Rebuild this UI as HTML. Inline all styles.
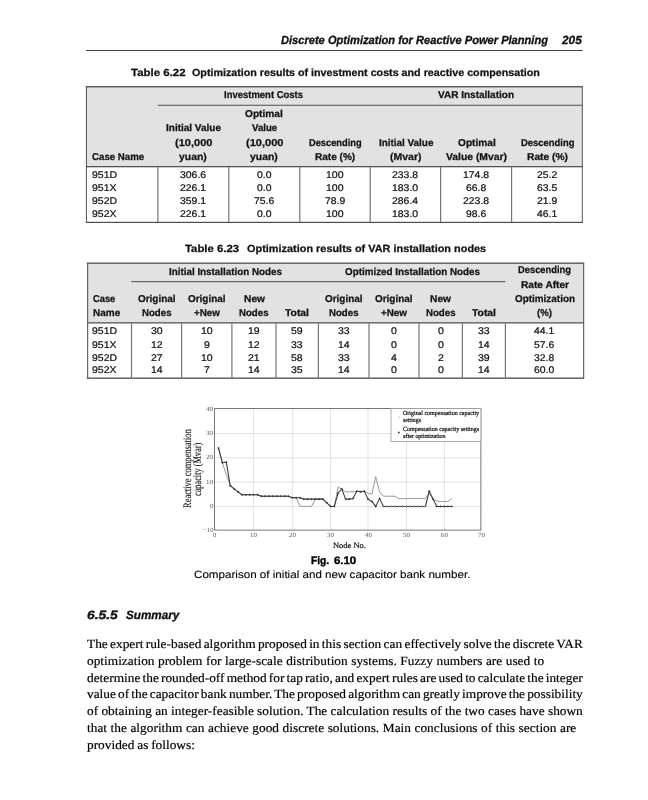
<!DOCTYPE html>
<html><head><meta charset="utf-8"><title>p205</title><style>
html,body{margin:0;padding:0;background:#fff}
#pg{position:relative;will-change:transform;width:648px;height:800px;overflow:hidden;background:#fff;font-family:"Liberation Sans",sans-serif}
.t{position:absolute;text-rendering:geometricPrecision;white-space:nowrap;transform-origin:0 0;line-height:1}
.r{position:absolute;white-space:nowrap;line-height:1;font-family:"Liberation Serif",serif;color:#222}
.b{position:absolute}

</style></head><body><div id="pg">
<svg width="648" height="800" viewBox="0 0 648 800" style="position:absolute;left:0;top:0">
<rect x="86.00" y="50.00" width="496.60" height="1.00" fill="#444"/>
<rect x="86.00" y="86.50" width="496.50" height="80.00" fill="#e2e2e2"/>
<rect x="85.90" y="86.10" width="496.90" height="1.30" fill="#4c4c4c"/>
<rect x="157.90" y="104.70" width="424.60" height="1.20" fill="#666"/>
<rect x="86.00" y="166.00" width="496.50" height="1.30" fill="#555"/>
<rect x="85.90" y="221.80" width="496.90" height="1.20" fill="#4c4c4c"/>
<rect x="85.90" y="86.00" width="1.00" height="136.50" fill="#505050"/>
<rect x="581.80" y="86.00" width="1.00" height="136.50" fill="#5a5a5a"/>
<rect x="157.30" y="167.00" width="1.20" height="55.00" fill="#757575"/>
<rect x="228.20" y="167.00" width="1.20" height="55.00" fill="#757575"/>
<rect x="299.20" y="167.00" width="1.20" height="55.00" fill="#757575"/>
<rect x="369.60" y="167.00" width="1.20" height="55.00" fill="#757575"/>
<rect x="440.00" y="167.00" width="1.20" height="55.00" fill="#757575"/>
<rect x="511.00" y="167.00" width="1.20" height="55.00" fill="#757575"/>
<rect x="87.00" y="263.00" width="497.00" height="59.50" fill="#e2e2e2"/>
<rect x="86.80" y="262.50" width="497.40" height="1.30" fill="#4c4c4c"/>
<rect x="131.40" y="281.00" width="374.00" height="1.20" fill="#666"/>
<rect x="87.00" y="322.20" width="497.00" height="1.30" fill="#555"/>
<rect x="86.80" y="377.50" width="497.40" height="1.30" fill="#4c4c4c"/>
<rect x="87.10" y="263.00" width="1.10" height="115.50" fill="#5a5a5a"/>
<rect x="583.10" y="263.00" width="1.10" height="115.50" fill="#5a5a5a"/>
<rect x="130.90" y="323.20" width="1.20" height="54.50" fill="#757575"/>
<rect x="181.00" y="323.20" width="1.20" height="54.50" fill="#757575"/>
<rect x="231.30" y="323.20" width="1.20" height="54.50" fill="#757575"/>
<rect x="275.40" y="323.20" width="1.20" height="54.50" fill="#757575"/>
<rect x="317.80" y="323.20" width="1.20" height="54.50" fill="#757575"/>
<rect x="368.40" y="323.20" width="1.20" height="54.50" fill="#757575"/>
<rect x="418.40" y="323.20" width="1.20" height="54.50" fill="#757575"/>
<rect x="461.80" y="323.20" width="1.20" height="54.50" fill="#757575"/>
<rect x="504.80" y="323.20" width="1.20" height="54.50" fill="#757575"/>
</svg>
<svg width="648" height="800" viewBox="0 0 648 800" style="position:absolute;left:0;top:0">
<line x1="253.6" y1="408.6" x2="253.6" y2="530.1" stroke="#d6d6d6" stroke-width="0.7"/>
<line x1="292.3" y1="408.6" x2="292.3" y2="530.1" stroke="#d6d6d6" stroke-width="0.7"/>
<line x1="330.6" y1="408.6" x2="330.6" y2="530.1" stroke="#d6d6d6" stroke-width="0.7"/>
<line x1="368.0" y1="408.6" x2="368.0" y2="530.1" stroke="#d6d6d6" stroke-width="0.7"/>
<line x1="406.5" y1="408.6" x2="406.5" y2="530.1" stroke="#d6d6d6" stroke-width="0.7"/>
<line x1="444.4" y1="408.6" x2="444.4" y2="530.1" stroke="#d6d6d6" stroke-width="0.7"/>
<line x1="214.6" y1="506.4" x2="480.9" y2="506.4" stroke="#d6d6d6" stroke-width="0.7"/>
<line x1="214.6" y1="482.1" x2="480.9" y2="482.1" stroke="#d6d6d6" stroke-width="0.7"/>
<line x1="214.6" y1="457.8" x2="480.9" y2="457.8" stroke="#d6d6d6" stroke-width="0.7"/>
<line x1="214.6" y1="433.5" x2="480.9" y2="433.5" stroke="#d6d6d6" stroke-width="0.7"/>
<rect x="214.6" y="408.6" width="266.3" height="121.5" fill="none" stroke="#555" stroke-width="0.8"/>
<polyline points="218.5,448.1 222.4,462.7 226.3,474.8 230.2,484.5 234.1,488.9 238.0,491.8 241.9,494.7 245.8,494.7 249.7,494.7 253.6,494.7 257.5,494.7 261.3,496.2 265.2,496.2 269.1,496.2 272.9,496.2 276.8,496.2 280.7,496.2 284.6,496.2 288.4,496.2 292.3,497.7 296.1,497.7 300.0,506.4 303.8,506.4 307.6,506.4 311.5,506.4 315.3,499.1 319.1,499.1 322.9,499.1 326.8,502.8 330.6,506.4 334.3,506.4 338.1,487.0 341.8,489.4 345.6,491.8 349.3,491.8 353.0,491.8 356.8,491.3 360.5,491.8 364.3,491.3 368.0,493.0 371.9,494.2 375.7,476.8 379.6,491.8 383.4,496.2 387.2,496.2 391.1,496.2 394.9,496.2 398.8,498.6 402.6,498.6 406.5,498.6 410.3,498.6 414.1,498.6 417.9,498.6 421.7,498.6 425.4,498.6 429.2,493.0 433.0,499.1 436.8,501.1 440.6,501.5 444.4,501.5 448.0,501.5 451.7,498.6" fill="none" stroke="#929292" stroke-width="0.95"/>
<polyline points="218.5,448.1 222.4,462.7 226.3,462.2 230.2,485.7 234.1,488.9 238.0,491.8 241.9,494.7 245.8,494.7 249.7,494.7 253.6,494.7 257.5,494.7 261.3,496.2 265.2,496.2 269.1,496.2 272.9,496.2 276.8,496.2 280.7,496.2 284.6,496.2 288.4,496.2 292.3,497.7 296.1,497.7 300.0,497.7 303.8,499.1 307.6,499.1 311.5,499.1 315.3,499.1 319.1,499.1 322.9,499.1 326.8,502.8 330.6,506.4 334.3,506.4 338.1,493.0 341.8,488.9 345.6,499.1 349.3,499.1 353.0,498.6 356.8,491.3 360.5,491.8 364.3,491.3 368.0,499.1 371.9,501.5 375.7,506.4 379.6,498.6 383.4,506.4 387.2,506.4 391.1,506.4 394.9,506.4 398.8,506.4 402.6,506.4 406.5,506.4 410.3,506.4 414.1,506.4 417.9,506.4 421.7,506.4 425.4,506.4 429.2,491.3 433.0,499.1 436.8,506.4 440.6,506.4 444.4,506.4 448.0,506.4 451.7,506.4" fill="none" stroke="#3a3a3a" stroke-width="1.05"/>
<circle cx="218.5" cy="448.1" r="0.75" fill="#444" stroke="#3a3a3a" stroke-width="0.45"/>
<circle cx="222.4" cy="462.7" r="0.75" fill="#444" stroke="#3a3a3a" stroke-width="0.45"/>
<circle cx="226.3" cy="462.2" r="0.75" fill="#444" stroke="#3a3a3a" stroke-width="0.45"/>
<circle cx="230.2" cy="485.7" r="0.75" fill="#444" stroke="#3a3a3a" stroke-width="0.45"/>
<circle cx="234.1" cy="488.9" r="0.75" fill="#444" stroke="#3a3a3a" stroke-width="0.45"/>
<circle cx="238.0" cy="491.8" r="0.75" fill="#444" stroke="#3a3a3a" stroke-width="0.45"/>
<circle cx="241.9" cy="494.7" r="0.75" fill="#444" stroke="#3a3a3a" stroke-width="0.45"/>
<circle cx="245.8" cy="494.7" r="0.75" fill="#444" stroke="#3a3a3a" stroke-width="0.45"/>
<circle cx="249.7" cy="494.7" r="0.75" fill="#444" stroke="#3a3a3a" stroke-width="0.45"/>
<circle cx="253.6" cy="494.7" r="0.75" fill="#444" stroke="#3a3a3a" stroke-width="0.45"/>
<circle cx="257.5" cy="494.7" r="0.75" fill="#444" stroke="#3a3a3a" stroke-width="0.45"/>
<circle cx="261.3" cy="496.2" r="0.75" fill="#444" stroke="#3a3a3a" stroke-width="0.45"/>
<circle cx="265.2" cy="496.2" r="0.75" fill="#444" stroke="#3a3a3a" stroke-width="0.45"/>
<circle cx="269.1" cy="496.2" r="0.75" fill="#444" stroke="#3a3a3a" stroke-width="0.45"/>
<circle cx="272.9" cy="496.2" r="0.75" fill="#444" stroke="#3a3a3a" stroke-width="0.45"/>
<circle cx="276.8" cy="496.2" r="0.75" fill="#444" stroke="#3a3a3a" stroke-width="0.45"/>
<circle cx="280.7" cy="496.2" r="0.75" fill="#444" stroke="#3a3a3a" stroke-width="0.45"/>
<circle cx="284.6" cy="496.2" r="0.75" fill="#444" stroke="#3a3a3a" stroke-width="0.45"/>
<circle cx="288.4" cy="496.2" r="0.75" fill="#444" stroke="#3a3a3a" stroke-width="0.45"/>
<circle cx="292.3" cy="497.7" r="0.75" fill="#444" stroke="#3a3a3a" stroke-width="0.45"/>
<circle cx="296.1" cy="497.7" r="0.75" fill="#444" stroke="#3a3a3a" stroke-width="0.45"/>
<circle cx="300.0" cy="497.7" r="0.75" fill="#444" stroke="#3a3a3a" stroke-width="0.45"/>
<circle cx="303.8" cy="499.1" r="0.75" fill="#444" stroke="#3a3a3a" stroke-width="0.45"/>
<circle cx="307.6" cy="499.1" r="0.75" fill="#444" stroke="#3a3a3a" stroke-width="0.45"/>
<circle cx="311.5" cy="499.1" r="0.75" fill="#444" stroke="#3a3a3a" stroke-width="0.45"/>
<circle cx="315.3" cy="499.1" r="0.75" fill="#444" stroke="#3a3a3a" stroke-width="0.45"/>
<circle cx="319.1" cy="499.1" r="0.75" fill="#444" stroke="#3a3a3a" stroke-width="0.45"/>
<circle cx="322.9" cy="499.1" r="0.75" fill="#444" stroke="#3a3a3a" stroke-width="0.45"/>
<circle cx="326.8" cy="502.8" r="0.75" fill="#444" stroke="#3a3a3a" stroke-width="0.45"/>
<circle cx="330.6" cy="506.4" r="0.75" fill="#444" stroke="#3a3a3a" stroke-width="0.45"/>
<circle cx="334.3" cy="506.4" r="0.75" fill="#444" stroke="#3a3a3a" stroke-width="0.45"/>
<circle cx="338.1" cy="493.0" r="0.75" fill="#444" stroke="#3a3a3a" stroke-width="0.45"/>
<circle cx="341.8" cy="488.9" r="0.75" fill="#444" stroke="#3a3a3a" stroke-width="0.45"/>
<circle cx="345.6" cy="499.1" r="0.75" fill="#444" stroke="#3a3a3a" stroke-width="0.45"/>
<circle cx="349.3" cy="499.1" r="0.75" fill="#444" stroke="#3a3a3a" stroke-width="0.45"/>
<circle cx="353.0" cy="498.6" r="0.75" fill="#444" stroke="#3a3a3a" stroke-width="0.45"/>
<circle cx="356.8" cy="491.3" r="0.75" fill="#444" stroke="#3a3a3a" stroke-width="0.45"/>
<circle cx="360.5" cy="491.8" r="0.75" fill="#444" stroke="#3a3a3a" stroke-width="0.45"/>
<circle cx="364.3" cy="491.3" r="0.75" fill="#444" stroke="#3a3a3a" stroke-width="0.45"/>
<circle cx="368.0" cy="499.1" r="0.75" fill="#444" stroke="#3a3a3a" stroke-width="0.45"/>
<circle cx="371.9" cy="501.5" r="0.75" fill="#444" stroke="#3a3a3a" stroke-width="0.45"/>
<circle cx="375.7" cy="506.4" r="0.75" fill="#444" stroke="#3a3a3a" stroke-width="0.45"/>
<circle cx="379.6" cy="498.6" r="0.75" fill="#444" stroke="#3a3a3a" stroke-width="0.45"/>
<circle cx="383.4" cy="506.4" r="0.75" fill="#ccc" stroke="#3a3a3a" stroke-width="0.45"/>
<circle cx="387.2" cy="506.4" r="0.75" fill="#ccc" stroke="#3a3a3a" stroke-width="0.45"/>
<circle cx="391.1" cy="506.4" r="0.75" fill="#ccc" stroke="#3a3a3a" stroke-width="0.45"/>
<circle cx="394.9" cy="506.4" r="0.75" fill="#ccc" stroke="#3a3a3a" stroke-width="0.45"/>
<circle cx="398.8" cy="506.4" r="0.75" fill="#ccc" stroke="#3a3a3a" stroke-width="0.45"/>
<circle cx="402.6" cy="506.4" r="0.75" fill="#ccc" stroke="#3a3a3a" stroke-width="0.45"/>
<circle cx="406.5" cy="506.4" r="0.75" fill="#ccc" stroke="#3a3a3a" stroke-width="0.45"/>
<circle cx="410.3" cy="506.4" r="0.75" fill="#ccc" stroke="#3a3a3a" stroke-width="0.45"/>
<circle cx="414.1" cy="506.4" r="0.75" fill="#ccc" stroke="#3a3a3a" stroke-width="0.45"/>
<circle cx="417.9" cy="506.4" r="0.75" fill="#ccc" stroke="#3a3a3a" stroke-width="0.45"/>
<circle cx="421.7" cy="506.4" r="0.75" fill="#ccc" stroke="#3a3a3a" stroke-width="0.45"/>
<circle cx="425.4" cy="506.4" r="0.75" fill="#ccc" stroke="#3a3a3a" stroke-width="0.45"/>
<circle cx="429.2" cy="491.3" r="0.75" fill="#444" stroke="#3a3a3a" stroke-width="0.45"/>
<circle cx="433.0" cy="499.1" r="0.75" fill="#444" stroke="#3a3a3a" stroke-width="0.45"/>
<circle cx="436.8" cy="506.4" r="0.75" fill="#444" stroke="#3a3a3a" stroke-width="0.45"/>
<circle cx="440.6" cy="506.4" r="0.75" fill="#444" stroke="#3a3a3a" stroke-width="0.45"/>
<circle cx="444.4" cy="506.4" r="0.75" fill="#444" stroke="#3a3a3a" stroke-width="0.45"/>
<circle cx="448.0" cy="506.4" r="0.75" fill="#444" stroke="#3a3a3a" stroke-width="0.45"/>
<circle cx="451.7" cy="506.4" r="0.75" fill="#444" stroke="#3a3a3a" stroke-width="0.45"/>
<rect x="391" y="408.6" width="89.9" height="32.9" fill="#fff" stroke="#999" stroke-width="0.8"/>
<circle cx="399.1" cy="417.1" r="0.6" fill="#999"/><circle cx="398.8" cy="432.5" r="0.9" fill="#333"/>
</svg>
<div class="t" style="left:281.00px;top:35.00px;font:italic bold 11.80px 'Liberation Sans', sans-serif;line-height:1;color:#111;-webkit-text-stroke:0.33px #111;transform:scaleX(0.9406)">Discrete Optimization for Reactive Power Planning</div>
<div class="t" style="left:562.30px;top:35.00px;font:italic bold 11.80px 'Liberation Sans', sans-serif;line-height:1;color:#111;-webkit-text-stroke:0.33px #111;transform:scaleX(1.0006)">205</div>
<div class="t" style="left:130.80px;top:69.00px;font:normal bold 10.40px 'Liberation Sans', sans-serif;line-height:1;color:#111;-webkit-text-stroke:0.25px #111;transform:scaleX(1.1034)">Table 6.22</div>
<div class="t" style="left:192.20px;top:69.00px;font:normal bold 10.40px 'Liberation Sans', sans-serif;line-height:1;color:#111;-webkit-text-stroke:0.25px #111;transform:scaleX(1.0314)">Optimization results of investment costs and reactive compensation</div>
<div class="t" style="left:185.40px;top:245.00px;font:normal bold 10.40px 'Liberation Sans', sans-serif;line-height:1;color:#111;-webkit-text-stroke:0.25px #111;transform:scaleX(1.0913)">Table 6.23</div>
<div class="t" style="left:246.60px;top:245.00px;font:normal bold 10.40px 'Liberation Sans', sans-serif;line-height:1;color:#111;-webkit-text-stroke:0.25px #111;transform:scaleX(1.0498)">Optimization results of VAR installation nodes</div>
<div class="t" style="left:224.30px;top:91.00px;font:normal bold 10.00px 'Liberation Sans', sans-serif;line-height:1;color:#111;-webkit-text-stroke:0.25px #111;transform:scaleX(0.9477)">Investment Costs</div>
<div class="t" style="left:438.00px;top:91.00px;font:normal bold 10.00px 'Liberation Sans', sans-serif;line-height:1;color:#111;-webkit-text-stroke:0.25px #111;transform:scaleX(1.0008)">VAR Installation</div>
<div class="t" style="left:92.00px;top:153.00px;font:normal bold 10.00px 'Liberation Sans', sans-serif;line-height:1;color:#111;-webkit-text-stroke:0.25px #111;transform:scaleX(0.9681)">Case Name</div>
<div class="t" style="left:166.30px;top:124.00px;font:normal bold 10.00px 'Liberation Sans', sans-serif;line-height:1;color:#111;-webkit-text-stroke:0.25px #111;transform:scaleX(0.9994)">Initial Value</div>
<div class="t" style="left:175.00px;top:139.00px;font:normal bold 10.00px 'Liberation Sans', sans-serif;line-height:1;color:#111;-webkit-text-stroke:0.25px #111;transform:scaleX(1.1025)">(10,000</div>
<div class="t" style="left:179.00px;top:153.00px;font:normal bold 10.00px 'Liberation Sans', sans-serif;line-height:1;color:#111;-webkit-text-stroke:0.25px #111;transform:scaleX(1.0423)">yuan)</div>
<div class="t" style="left:245.30px;top:110.00px;font:normal bold 10.00px 'Liberation Sans', sans-serif;line-height:1;color:#111;-webkit-text-stroke:0.25px #111;transform:scaleX(1.0125)">Optimal</div>
<div class="t" style="left:251.80px;top:124.00px;font:normal bold 10.00px 'Liberation Sans', sans-serif;line-height:1;color:#111;-webkit-text-stroke:0.25px #111;transform:scaleX(0.9640)">Value</div>
<div class="t" style="left:245.50px;top:139.00px;font:normal bold 10.00px 'Liberation Sans', sans-serif;line-height:1;color:#111;-webkit-text-stroke:0.25px #111;transform:scaleX(1.1055)">(10,000</div>
<div class="t" style="left:250.00px;top:153.00px;font:normal bold 10.00px 'Liberation Sans', sans-serif;line-height:1;color:#111;-webkit-text-stroke:0.25px #111;transform:scaleX(1.0423)">yuan)</div>
<div class="t" style="left:308.70px;top:139.00px;font:normal bold 10.00px 'Liberation Sans', sans-serif;line-height:1;color:#111;-webkit-text-stroke:0.25px #111;transform:scaleX(0.9279)">Descending</div>
<div class="t" style="left:314.80px;top:153.00px;font:normal bold 10.00px 'Liberation Sans', sans-serif;line-height:1;color:#111;-webkit-text-stroke:0.25px #111;transform:scaleX(1.0046)">Rate (%)</div>
<div class="t" style="left:378.60px;top:139.00px;font:normal bold 10.00px 'Liberation Sans', sans-serif;line-height:1;color:#111;-webkit-text-stroke:0.25px #111;transform:scaleX(0.9885)">Initial Value</div>
<div class="t" style="left:390.00px;top:153.00px;font:normal bold 10.00px 'Liberation Sans', sans-serif;line-height:1;color:#111;-webkit-text-stroke:0.25px #111;transform:scaleX(1.0495)">(Mvar)</div>
<div class="t" style="left:457.60px;top:139.00px;font:normal bold 10.00px 'Liberation Sans', sans-serif;line-height:1;color:#111;-webkit-text-stroke:0.25px #111;transform:scaleX(1.0125)">Optimal</div>
<div class="t" style="left:445.60px;top:153.00px;font:normal bold 10.00px 'Liberation Sans', sans-serif;line-height:1;color:#111;-webkit-text-stroke:0.25px #111;transform:scaleX(1.0353)">Value (Mvar)</div>
<div class="t" style="left:520.60px;top:139.00px;font:normal bold 10.00px 'Liberation Sans', sans-serif;line-height:1;color:#111;-webkit-text-stroke:0.25px #111;transform:scaleX(0.9420)">Descending</div>
<div class="t" style="left:526.70px;top:153.00px;font:normal bold 10.00px 'Liberation Sans', sans-serif;line-height:1;color:#111;-webkit-text-stroke:0.25px #111;transform:scaleX(1.0221)">Rate (%)</div>
<div class="t" style="left:91.50px;top:171.00px;font:normal normal 9.70px 'Liberation Sans', sans-serif;line-height:1;color:#111;-webkit-text-stroke:0.22px #111;transform:scaleX(1.0789)">951D</div>
<div class="t" style="left:179.95px;top:171.00px;font:normal normal 9.70px 'Liberation Sans', sans-serif;line-height:1;color:#111;-webkit-text-stroke:0.22px #111;transform:scaleX(1.0763)">306.6</div>
<div class="t" style="left:256.80px;top:171.00px;font:normal normal 9.70px 'Liberation Sans', sans-serif;line-height:1;color:#111;-webkit-text-stroke:0.22px #111;transform:scaleX(1.0691)">0.0</div>
<div class="t" style="left:326.23px;top:171.00px;font:normal normal 9.70px 'Liberation Sans', sans-serif;line-height:1;color:#111;-webkit-text-stroke:0.22px #111;transform:scaleX(1.0852)">100</div>
<div class="t" style="left:392.15px;top:171.00px;font:normal normal 9.70px 'Liberation Sans', sans-serif;line-height:1;color:#111;-webkit-text-stroke:0.22px #111;transform:scaleX(1.0763)">233.8</div>
<div class="t" style="left:462.95px;top:171.00px;font:normal normal 9.70px 'Liberation Sans', sans-serif;line-height:1;color:#111;-webkit-text-stroke:0.22px #111;transform:scaleX(1.0763)">174.8</div>
<div class="t" style="left:536.58px;top:171.00px;font:normal normal 9.70px 'Liberation Sans', sans-serif;line-height:1;color:#111;-webkit-text-stroke:0.22px #111;transform:scaleX(1.0737)">25.2</div>
<div class="t" style="left:91.50px;top:184.00px;font:normal normal 9.70px 'Liberation Sans', sans-serif;line-height:1;color:#111;-webkit-text-stroke:0.22px #111;transform:scaleX(1.0829)">951X</div>
<div class="t" style="left:179.95px;top:184.00px;font:normal normal 9.70px 'Liberation Sans', sans-serif;line-height:1;color:#111;-webkit-text-stroke:0.22px #111;transform:scaleX(1.0763)">226.1</div>
<div class="t" style="left:256.80px;top:184.00px;font:normal normal 9.70px 'Liberation Sans', sans-serif;line-height:1;color:#111;-webkit-text-stroke:0.22px #111;transform:scaleX(1.0691)">0.0</div>
<div class="t" style="left:326.23px;top:184.00px;font:normal normal 9.70px 'Liberation Sans', sans-serif;line-height:1;color:#111;-webkit-text-stroke:0.22px #111;transform:scaleX(1.0852)">100</div>
<div class="t" style="left:392.15px;top:184.00px;font:normal normal 9.70px 'Liberation Sans', sans-serif;line-height:1;color:#111;-webkit-text-stroke:0.22px #111;transform:scaleX(1.0763)">183.0</div>
<div class="t" style="left:465.88px;top:184.00px;font:normal normal 9.70px 'Liberation Sans', sans-serif;line-height:1;color:#111;-webkit-text-stroke:0.22px #111;transform:scaleX(1.0737)">66.8</div>
<div class="t" style="left:536.58px;top:184.00px;font:normal normal 9.70px 'Liberation Sans', sans-serif;line-height:1;color:#111;-webkit-text-stroke:0.22px #111;transform:scaleX(1.0737)">63.5</div>
<div class="t" style="left:91.50px;top:197.00px;font:normal normal 9.70px 'Liberation Sans', sans-serif;line-height:1;color:#111;-webkit-text-stroke:0.22px #111;transform:scaleX(1.0789)">952D</div>
<div class="t" style="left:179.95px;top:197.00px;font:normal normal 9.70px 'Liberation Sans', sans-serif;line-height:1;color:#111;-webkit-text-stroke:0.22px #111;transform:scaleX(1.0763)">359.1</div>
<div class="t" style="left:253.88px;top:197.00px;font:normal normal 9.70px 'Liberation Sans', sans-serif;line-height:1;color:#111;-webkit-text-stroke:0.22px #111;transform:scaleX(1.0737)">75.6</div>
<div class="t" style="left:324.88px;top:197.00px;font:normal normal 9.70px 'Liberation Sans', sans-serif;line-height:1;color:#111;-webkit-text-stroke:0.22px #111;transform:scaleX(1.0737)">78.9</div>
<div class="t" style="left:392.15px;top:197.00px;font:normal normal 9.70px 'Liberation Sans', sans-serif;line-height:1;color:#111;-webkit-text-stroke:0.22px #111;transform:scaleX(1.0763)">286.4</div>
<div class="t" style="left:462.95px;top:197.00px;font:normal normal 9.70px 'Liberation Sans', sans-serif;line-height:1;color:#111;-webkit-text-stroke:0.22px #111;transform:scaleX(1.0763)">223.8</div>
<div class="t" style="left:536.58px;top:197.00px;font:normal normal 9.70px 'Liberation Sans', sans-serif;line-height:1;color:#111;-webkit-text-stroke:0.22px #111;transform:scaleX(1.0737)">21.9</div>
<div class="t" style="left:91.50px;top:210.00px;font:normal normal 9.70px 'Liberation Sans', sans-serif;line-height:1;color:#111;-webkit-text-stroke:0.22px #111;transform:scaleX(1.0829)">952X</div>
<div class="t" style="left:179.95px;top:210.00px;font:normal normal 9.70px 'Liberation Sans', sans-serif;line-height:1;color:#111;-webkit-text-stroke:0.22px #111;transform:scaleX(1.0763)">226.1</div>
<div class="t" style="left:256.80px;top:210.00px;font:normal normal 9.70px 'Liberation Sans', sans-serif;line-height:1;color:#111;-webkit-text-stroke:0.22px #111;transform:scaleX(1.0691)">0.0</div>
<div class="t" style="left:326.23px;top:210.00px;font:normal normal 9.70px 'Liberation Sans', sans-serif;line-height:1;color:#111;-webkit-text-stroke:0.22px #111;transform:scaleX(1.0852)">100</div>
<div class="t" style="left:392.15px;top:210.00px;font:normal normal 9.70px 'Liberation Sans', sans-serif;line-height:1;color:#111;-webkit-text-stroke:0.22px #111;transform:scaleX(1.0763)">183.0</div>
<div class="t" style="left:465.88px;top:210.00px;font:normal normal 9.70px 'Liberation Sans', sans-serif;line-height:1;color:#111;-webkit-text-stroke:0.22px #111;transform:scaleX(1.0737)">98.6</div>
<div class="t" style="left:536.58px;top:210.00px;font:normal normal 9.70px 'Liberation Sans', sans-serif;line-height:1;color:#111;-webkit-text-stroke:0.22px #111;transform:scaleX(1.0737)">46.1</div>
<div class="t" style="left:168.80px;top:268.00px;font:normal bold 10.00px 'Liberation Sans', sans-serif;line-height:1;color:#111;-webkit-text-stroke:0.25px #111;transform:scaleX(0.9825)">Initial Installation Nodes</div>
<div class="t" style="left:344.80px;top:268.00px;font:normal bold 10.00px 'Liberation Sans', sans-serif;line-height:1;color:#111;-webkit-text-stroke:0.25px #111;transform:scaleX(0.9836)">Optimized Installation Nodes</div>
<div class="t" style="left:93.20px;top:295.00px;font:normal bold 10.00px 'Liberation Sans', sans-serif;line-height:1;color:#111;-webkit-text-stroke:0.25px #111;transform:scaleX(0.9328)">Case</div>
<div class="t" style="left:93.20px;top:309.00px;font:normal bold 10.00px 'Liberation Sans', sans-serif;line-height:1;color:#111;-webkit-text-stroke:0.25px #111;transform:scaleX(1.0018)">Name</div>
<div class="t" style="left:137.85px;top:295.00px;font:normal bold 10.00px 'Liberation Sans', sans-serif;line-height:1;color:#111;-webkit-text-stroke:0.25px #111;transform:scaleX(0.9921)">Original</div>
<div class="t" style="left:141.85px;top:309.00px;font:normal bold 10.00px 'Liberation Sans', sans-serif;line-height:1;color:#111;-webkit-text-stroke:0.25px #111;transform:scaleX(0.9652)">Nodes</div>
<div class="t" style="left:187.85px;top:295.00px;font:normal bold 10.00px 'Liberation Sans', sans-serif;line-height:1;color:#111;-webkit-text-stroke:0.25px #111;transform:scaleX(0.9921)">Original</div>
<div class="t" style="left:193.60px;top:309.00px;font:normal bold 10.00px 'Liberation Sans', sans-serif;line-height:1;color:#111;-webkit-text-stroke:0.25px #111;transform:scaleX(0.9846)">+New</div>
<div class="t" style="left:243.50px;top:295.00px;font:normal bold 10.00px 'Liberation Sans', sans-serif;line-height:1;color:#111;-webkit-text-stroke:0.25px #111;transform:scaleX(1.0213)">New</div>
<div class="t" style="left:239.25px;top:309.00px;font:normal bold 10.00px 'Liberation Sans', sans-serif;line-height:1;color:#111;-webkit-text-stroke:0.25px #111;transform:scaleX(0.9652)">Nodes</div>
<div class="t" style="left:285.00px;top:309.00px;font:normal bold 10.00px 'Liberation Sans', sans-serif;line-height:1;color:#111;-webkit-text-stroke:0.25px #111;transform:scaleX(1.0364)">Total</div>
<div class="t" style="left:325.25px;top:295.00px;font:normal bold 10.00px 'Liberation Sans', sans-serif;line-height:1;color:#111;-webkit-text-stroke:0.25px #111;transform:scaleX(0.9921)">Original</div>
<div class="t" style="left:329.25px;top:309.00px;font:normal bold 10.00px 'Liberation Sans', sans-serif;line-height:1;color:#111;-webkit-text-stroke:0.25px #111;transform:scaleX(0.9652)">Nodes</div>
<div class="t" style="left:374.75px;top:295.00px;font:normal bold 10.00px 'Liberation Sans', sans-serif;line-height:1;color:#111;-webkit-text-stroke:0.25px #111;transform:scaleX(0.9921)">Original</div>
<div class="t" style="left:380.50px;top:309.00px;font:normal bold 10.00px 'Liberation Sans', sans-serif;line-height:1;color:#111;-webkit-text-stroke:0.25px #111;transform:scaleX(0.9846)">+New</div>
<div class="t" style="left:430.20px;top:295.00px;font:normal bold 10.00px 'Liberation Sans', sans-serif;line-height:1;color:#111;-webkit-text-stroke:0.25px #111;transform:scaleX(1.0213)">New</div>
<div class="t" style="left:425.95px;top:309.00px;font:normal bold 10.00px 'Liberation Sans', sans-serif;line-height:1;color:#111;-webkit-text-stroke:0.25px #111;transform:scaleX(0.9652)">Nodes</div>
<div class="t" style="left:472.00px;top:309.00px;font:normal bold 10.00px 'Liberation Sans', sans-serif;line-height:1;color:#111;-webkit-text-stroke:0.25px #111;transform:scaleX(1.0364)">Total</div>
<div class="t" style="left:518.00px;top:266.00px;font:normal bold 10.00px 'Liberation Sans', sans-serif;line-height:1;color:#111;-webkit-text-stroke:0.25px #111;transform:scaleX(0.9350)">Descending</div>
<div class="t" style="left:520.50px;top:281.00px;font:normal bold 10.00px 'Liberation Sans', sans-serif;line-height:1;color:#111;-webkit-text-stroke:0.25px #111;transform:scaleX(1.0122)">Rate After</div>
<div class="t" style="left:514.50px;top:295.00px;font:normal bold 10.00px 'Liberation Sans', sans-serif;line-height:1;color:#111;-webkit-text-stroke:0.25px #111;transform:scaleX(0.9907)">Optimization</div>
<div class="t" style="left:537.00px;top:309.00px;font:normal bold 10.00px 'Liberation Sans', sans-serif;line-height:1;color:#111;-webkit-text-stroke:0.25px #111;transform:scaleX(0.9639)">(%)</div>
<div class="t" style="left:91.80px;top:327.00px;font:normal normal 9.70px 'Liberation Sans', sans-serif;line-height:1;color:#111;-webkit-text-stroke:0.22px #111;transform:scaleX(1.0789)">951D</div>
<div class="t" style="left:150.75px;top:327.00px;font:normal normal 9.70px 'Liberation Sans', sans-serif;line-height:1;color:#111;-webkit-text-stroke:0.22px #111;transform:scaleX(1.0852)">30</div>
<div class="t" style="left:200.75px;top:327.00px;font:normal normal 9.70px 'Liberation Sans', sans-serif;line-height:1;color:#111;-webkit-text-stroke:0.22px #111;transform:scaleX(1.0852)">10</div>
<div class="t" style="left:248.15px;top:327.00px;font:normal normal 9.70px 'Liberation Sans', sans-serif;line-height:1;color:#111;-webkit-text-stroke:0.22px #111;transform:scaleX(1.0852)">19</div>
<div class="t" style="left:291.15px;top:327.00px;font:normal normal 9.70px 'Liberation Sans', sans-serif;line-height:1;color:#111;-webkit-text-stroke:0.22px #111;transform:scaleX(1.0852)">59</div>
<div class="t" style="left:338.15px;top:327.00px;font:normal normal 9.70px 'Liberation Sans', sans-serif;line-height:1;color:#111;-webkit-text-stroke:0.22px #111;transform:scaleX(1.0852)">33</div>
<div class="t" style="left:390.57px;top:327.00px;font:normal normal 9.70px 'Liberation Sans', sans-serif;line-height:1;color:#111;-webkit-text-stroke:0.22px #111;transform:scaleX(1.0852)">0</div>
<div class="t" style="left:437.77px;top:327.00px;font:normal normal 9.70px 'Liberation Sans', sans-serif;line-height:1;color:#111;-webkit-text-stroke:0.22px #111;transform:scaleX(1.0852)">0</div>
<div class="t" style="left:478.15px;top:327.00px;font:normal normal 9.70px 'Liberation Sans', sans-serif;line-height:1;color:#111;-webkit-text-stroke:0.22px #111;transform:scaleX(1.0852)">33</div>
<div class="t" style="left:534.38px;top:327.00px;font:normal normal 9.70px 'Liberation Sans', sans-serif;line-height:1;color:#111;-webkit-text-stroke:0.22px #111;transform:scaleX(1.0737)">44.1</div>
<div class="t" style="left:91.80px;top:341.00px;font:normal normal 9.70px 'Liberation Sans', sans-serif;line-height:1;color:#111;-webkit-text-stroke:0.22px #111;transform:scaleX(1.0829)">951X</div>
<div class="t" style="left:150.75px;top:341.00px;font:normal normal 9.70px 'Liberation Sans', sans-serif;line-height:1;color:#111;-webkit-text-stroke:0.22px #111;transform:scaleX(1.0852)">12</div>
<div class="t" style="left:203.67px;top:341.00px;font:normal normal 9.70px 'Liberation Sans', sans-serif;line-height:1;color:#111;-webkit-text-stroke:0.22px #111;transform:scaleX(1.0852)">9</div>
<div class="t" style="left:248.15px;top:341.00px;font:normal normal 9.70px 'Liberation Sans', sans-serif;line-height:1;color:#111;-webkit-text-stroke:0.22px #111;transform:scaleX(1.0852)">12</div>
<div class="t" style="left:291.15px;top:341.00px;font:normal normal 9.70px 'Liberation Sans', sans-serif;line-height:1;color:#111;-webkit-text-stroke:0.22px #111;transform:scaleX(1.0852)">33</div>
<div class="t" style="left:338.15px;top:341.00px;font:normal normal 9.70px 'Liberation Sans', sans-serif;line-height:1;color:#111;-webkit-text-stroke:0.22px #111;transform:scaleX(1.0852)">14</div>
<div class="t" style="left:390.57px;top:341.00px;font:normal normal 9.70px 'Liberation Sans', sans-serif;line-height:1;color:#111;-webkit-text-stroke:0.22px #111;transform:scaleX(1.0852)">0</div>
<div class="t" style="left:437.77px;top:341.00px;font:normal normal 9.70px 'Liberation Sans', sans-serif;line-height:1;color:#111;-webkit-text-stroke:0.22px #111;transform:scaleX(1.0852)">0</div>
<div class="t" style="left:478.15px;top:341.00px;font:normal normal 9.70px 'Liberation Sans', sans-serif;line-height:1;color:#111;-webkit-text-stroke:0.22px #111;transform:scaleX(1.0852)">14</div>
<div class="t" style="left:534.38px;top:341.00px;font:normal normal 9.70px 'Liberation Sans', sans-serif;line-height:1;color:#111;-webkit-text-stroke:0.22px #111;transform:scaleX(1.0737)">57.6</div>
<div class="t" style="left:91.80px;top:354.00px;font:normal normal 9.70px 'Liberation Sans', sans-serif;line-height:1;color:#111;-webkit-text-stroke:0.22px #111;transform:scaleX(1.0789)">952D</div>
<div class="t" style="left:150.75px;top:354.00px;font:normal normal 9.70px 'Liberation Sans', sans-serif;line-height:1;color:#111;-webkit-text-stroke:0.22px #111;transform:scaleX(1.0852)">27</div>
<div class="t" style="left:200.75px;top:354.00px;font:normal normal 9.70px 'Liberation Sans', sans-serif;line-height:1;color:#111;-webkit-text-stroke:0.22px #111;transform:scaleX(1.0852)">10</div>
<div class="t" style="left:248.15px;top:354.00px;font:normal normal 9.70px 'Liberation Sans', sans-serif;line-height:1;color:#111;-webkit-text-stroke:0.22px #111;transform:scaleX(1.0852)">21</div>
<div class="t" style="left:291.15px;top:354.00px;font:normal normal 9.70px 'Liberation Sans', sans-serif;line-height:1;color:#111;-webkit-text-stroke:0.22px #111;transform:scaleX(1.0852)">58</div>
<div class="t" style="left:338.15px;top:354.00px;font:normal normal 9.70px 'Liberation Sans', sans-serif;line-height:1;color:#111;-webkit-text-stroke:0.22px #111;transform:scaleX(1.0852)">33</div>
<div class="t" style="left:390.57px;top:354.00px;font:normal normal 9.70px 'Liberation Sans', sans-serif;line-height:1;color:#111;-webkit-text-stroke:0.22px #111;transform:scaleX(1.0852)">4</div>
<div class="t" style="left:437.77px;top:354.00px;font:normal normal 9.70px 'Liberation Sans', sans-serif;line-height:1;color:#111;-webkit-text-stroke:0.22px #111;transform:scaleX(1.0852)">2</div>
<div class="t" style="left:478.15px;top:354.00px;font:normal normal 9.70px 'Liberation Sans', sans-serif;line-height:1;color:#111;-webkit-text-stroke:0.22px #111;transform:scaleX(1.0852)">39</div>
<div class="t" style="left:534.38px;top:354.00px;font:normal normal 9.70px 'Liberation Sans', sans-serif;line-height:1;color:#111;-webkit-text-stroke:0.22px #111;transform:scaleX(1.0737)">32.8</div>
<div class="t" style="left:91.80px;top:366.00px;font:normal normal 9.70px 'Liberation Sans', sans-serif;line-height:1;color:#111;-webkit-text-stroke:0.22px #111;transform:scaleX(1.0829)">952X</div>
<div class="t" style="left:150.75px;top:366.00px;font:normal normal 9.70px 'Liberation Sans', sans-serif;line-height:1;color:#111;-webkit-text-stroke:0.22px #111;transform:scaleX(1.0852)">14</div>
<div class="t" style="left:203.67px;top:366.00px;font:normal normal 9.70px 'Liberation Sans', sans-serif;line-height:1;color:#111;-webkit-text-stroke:0.22px #111;transform:scaleX(1.0852)">7</div>
<div class="t" style="left:248.15px;top:366.00px;font:normal normal 9.70px 'Liberation Sans', sans-serif;line-height:1;color:#111;-webkit-text-stroke:0.22px #111;transform:scaleX(1.0852)">14</div>
<div class="t" style="left:291.15px;top:366.00px;font:normal normal 9.70px 'Liberation Sans', sans-serif;line-height:1;color:#111;-webkit-text-stroke:0.22px #111;transform:scaleX(1.0852)">35</div>
<div class="t" style="left:338.15px;top:366.00px;font:normal normal 9.70px 'Liberation Sans', sans-serif;line-height:1;color:#111;-webkit-text-stroke:0.22px #111;transform:scaleX(1.0852)">14</div>
<div class="t" style="left:390.57px;top:366.00px;font:normal normal 9.70px 'Liberation Sans', sans-serif;line-height:1;color:#111;-webkit-text-stroke:0.22px #111;transform:scaleX(1.0852)">0</div>
<div class="t" style="left:437.77px;top:366.00px;font:normal normal 9.70px 'Liberation Sans', sans-serif;line-height:1;color:#111;-webkit-text-stroke:0.22px #111;transform:scaleX(1.0852)">0</div>
<div class="t" style="left:478.15px;top:366.00px;font:normal normal 9.70px 'Liberation Sans', sans-serif;line-height:1;color:#111;-webkit-text-stroke:0.22px #111;transform:scaleX(1.0852)">14</div>
<div class="t" style="left:534.38px;top:366.00px;font:normal normal 9.70px 'Liberation Sans', sans-serif;line-height:1;color:#111;-webkit-text-stroke:0.22px #111;transform:scaleX(1.0737)">60.0</div>
<div class="t" style="left:311.10px;top:556.00px;font:normal bold 10.90px 'Liberation Sans', sans-serif;line-height:1;color:#000;-webkit-text-stroke:0.40px #000;transform:scaleX(0.9349)">Fig.</div>
<div class="t" style="left:334.00px;top:556.00px;font:normal bold 10.90px 'Liberation Sans', sans-serif;line-height:1;color:#000;-webkit-text-stroke:0.40px #000;transform:scaleX(1.0470)">6.10</div>
<div class="t" style="left:194.30px;top:570.00px;font:normal normal 10.50px 'Liberation Sans', sans-serif;line-height:1;color:#000;-webkit-text-stroke:0.12px #000;transform:scaleX(1.1064)">Comparison of initial and new capacitor bank number.</div>
<div class="t" style="left:86.50px;top:609.00px;font:italic bold 12.00px 'Liberation Sans', sans-serif;line-height:1;color:#111;-webkit-text-stroke:0.33px #111;transform:scaleX(1.1534)">6.5.5</div>
<div class="t" style="left:125.60px;top:609.00px;font:italic bold 12.00px 'Liberation Sans', sans-serif;line-height:1;color:#111;-webkit-text-stroke:0.33px #111;transform:scaleX(0.9725)">Summary</div>
<div class="t" style="left:87.10px;top:638.00px;font:normal normal 12.60px 'Liberation Serif', serif;line-height:1;color:#000;-webkit-text-stroke:0.18px #000;word-spacing:-0.958px;transform:scaleX(1.0600)">The expert rule-based algorithm proposed in this section can effectively solve the discrete VAR</div>
<div class="t" style="left:87.10px;top:655.00px;font:normal normal 12.60px 'Liberation Serif', serif;line-height:1;color:#000;-webkit-text-stroke:0.18px #000;word-spacing:0.162px;transform:scaleX(1.0600)">optimization problem for large-scale distribution systems. Fuzzy numbers are used to</div>
<div class="t" style="left:87.10px;top:672.00px;font:normal normal 12.60px 'Liberation Serif', serif;line-height:1;color:#000;-webkit-text-stroke:0.18px #000;word-spacing:-1.113px;transform:scaleX(1.0600)">determine the rounded-off method for tap ratio, and expert rules are used to calculate the integer</div>
<div class="t" style="left:87.10px;top:688.00px;font:normal normal 12.60px 'Liberation Serif', serif;line-height:1;color:#000;-webkit-text-stroke:0.18px #000;word-spacing:-1.128px;transform:scaleX(1.0600)">value of the capacitor bank number. The proposed algorithm can greatly improve the possibility</div>
<div class="t" style="left:87.10px;top:705.00px;font:normal normal 12.60px 'Liberation Serif', serif;line-height:1;color:#000;-webkit-text-stroke:0.18px #000;word-spacing:-0.032px;transform:scaleX(1.0600)">of obtaining an integer-feasible solution. The calculation results of the two cases have shown</div>
<div class="t" style="left:87.10px;top:722.00px;font:normal normal 12.60px 'Liberation Serif', serif;line-height:1;color:#000;-webkit-text-stroke:0.18px #000;word-spacing:0.211px;transform:scaleX(1.0600)">that the algorithm can achieve good discrete solutions. Main conclusions of this section are</div>
<div class="t" style="left:87.10px;top:739.00px;font:normal normal 12.60px 'Liberation Serif', serif;line-height:1;color:#000;-webkit-text-stroke:0.18px #000;word-spacing:-0.526px;transform:scaleX(1.0600)">provided as follows:</div>
<div class="t" style="left:206.30px;top:407.00px;font:normal normal 6.40px 'Liberation Serif', serif;line-height:1;color:#555;-webkit-text-stroke:0.00px #555;transform:scaleX(1.0954)">40</div>
<div class="t" style="left:206.30px;top:431.00px;font:normal normal 6.40px 'Liberation Serif', serif;line-height:1;color:#555;-webkit-text-stroke:0.00px #555;transform:scaleX(1.0954)">30</div>
<div class="t" style="left:206.30px;top:455.00px;font:normal normal 6.40px 'Liberation Serif', serif;line-height:1;color:#555;-webkit-text-stroke:0.00px #555;transform:scaleX(1.0954)">20</div>
<div class="t" style="left:206.30px;top:480.00px;font:normal normal 6.40px 'Liberation Serif', serif;line-height:1;color:#555;-webkit-text-stroke:0.00px #555;transform:scaleX(1.0954)">10</div>
<div class="t" style="left:209.70px;top:504.00px;font:normal normal 6.40px 'Liberation Serif', serif;line-height:1;color:#555;-webkit-text-stroke:0.00px #555;transform:scaleX(1.1239)">0</div>
<div class="t" style="left:202.80px;top:528.00px;font:normal normal 6.40px 'Liberation Serif', serif;line-height:1;color:#555;-webkit-text-stroke:0.00px #555;transform:scaleX(1.0500)">−10</div>
<div class="t" style="left:212.90px;top:533.00px;font:normal normal 6.40px 'Liberation Serif', serif;line-height:1;color:#555;-webkit-text-stroke:0.00px #555;transform:scaleX(1.0615)">0</div>
<div class="t" style="left:250.20px;top:533.00px;font:normal normal 6.40px 'Liberation Serif', serif;line-height:1;color:#555;-webkit-text-stroke:0.00px #555;transform:scaleX(1.0641)">10</div>
<div class="t" style="left:288.90px;top:533.00px;font:normal normal 6.40px 'Liberation Serif', serif;line-height:1;color:#555;-webkit-text-stroke:0.00px #555;transform:scaleX(1.0641)">20</div>
<div class="t" style="left:327.20px;top:533.00px;font:normal normal 6.40px 'Liberation Serif', serif;line-height:1;color:#555;-webkit-text-stroke:0.00px #555;transform:scaleX(1.0641)">30</div>
<div class="t" style="left:364.60px;top:533.00px;font:normal normal 6.40px 'Liberation Serif', serif;line-height:1;color:#555;-webkit-text-stroke:0.00px #555;transform:scaleX(1.0641)">40</div>
<div class="t" style="left:403.10px;top:533.00px;font:normal normal 6.40px 'Liberation Serif', serif;line-height:1;color:#555;-webkit-text-stroke:0.00px #555;transform:scaleX(1.0641)">50</div>
<div class="t" style="left:441.00px;top:533.00px;font:normal normal 6.40px 'Liberation Serif', serif;line-height:1;color:#555;-webkit-text-stroke:0.00px #555;transform:scaleX(1.0641)">60</div>
<div class="t" style="left:477.50px;top:533.00px;font:normal normal 6.40px 'Liberation Serif', serif;line-height:1;color:#555;-webkit-text-stroke:0.00px #555;transform:scaleX(1.0641)">70</div>
<div class="t" style="left:333.00px;top:542.00px;font:normal normal 8.00px 'Liberation Serif', serif;line-height:1;color:#111;-webkit-text-stroke:0.22px #111;transform:scaleX(1.0543)">Node No.</div>
<div class="t" style="left:402.70px;top:411.00px;font:normal normal 6.40px 'Liberation Serif', serif;line-height:1;color:#111;-webkit-text-stroke:0.22px #111;transform:scaleX(0.9363)">Original compensation capacity</div>
<div class="t" style="left:402.70px;top:418.00px;font:normal normal 6.40px 'Liberation Serif', serif;line-height:1;color:#111;-webkit-text-stroke:0.22px #111;transform:scaleX(0.9216)">settings</div>
<div class="t" style="left:402.70px;top:427.00px;font:normal normal 6.40px 'Liberation Serif', serif;line-height:1;color:#111;-webkit-text-stroke:0.22px #111;transform:scaleX(0.9402)">Compensation capacity settings</div>
<div class="t" style="left:402.70px;top:434.00px;font:normal normal 6.40px 'Liberation Serif', serif;line-height:1;color:#111;-webkit-text-stroke:0.22px #111;transform:scaleX(0.9318)">after optimization</div>
<div class="t" style="left:182.85px;top:508.10px;font:normal normal 11.40px 'Liberation Serif', serif;line-height:1;color:#222;-webkit-text-stroke:0.15px #222;transform:rotate(-90deg) scaleX(0.7427)">Reactive compensation</div>
<div class="t" style="left:193.45px;top:496.30px;font:normal normal 11.40px 'Liberation Serif', serif;line-height:1;color:#222;-webkit-text-stroke:0.15px #222;transform:rotate(-90deg) scaleX(0.7281)">capacity (Mvar)</div>
</div></body></html>
